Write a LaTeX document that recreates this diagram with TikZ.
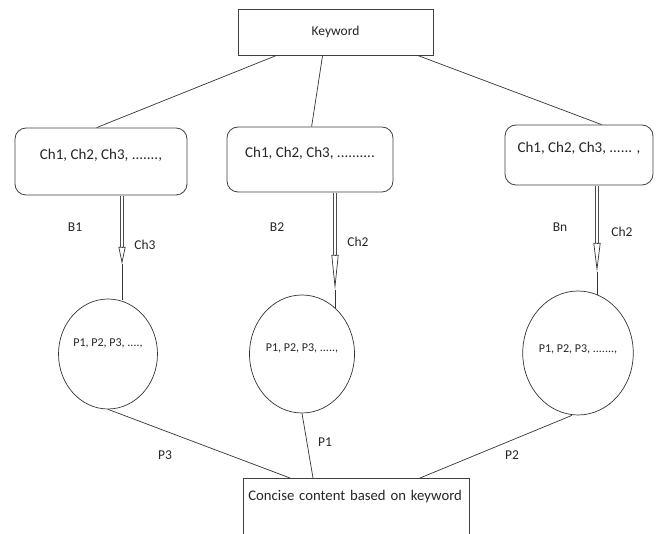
\documentclass[tikz,border=0pt]{standalone}
\usepackage{fontspec}
\setmainfont{Carlito}
\usetikzlibrary{shapes.geometric,arrows.meta}

\tikzset{
  box/.style={draw=black!75, line width=0.8pt, fill=white, text=black!85, inner sep=0pt},
  chbox/.style={box, rounded corners=11pt, text height=10pt, text depth=14pt,
                font=\fontsize{15}{17}\selectfont},
  pnode/.style={ellipse, draw=black!80, line width=0.7pt, inner sep=0pt, text=black!85,
                text height=8pt, font=\fontsize{12}{14}\selectfont},
  lab/.style={text=black!85, inner sep=0pt, font=\fontsize{13.5}{16}\selectfont},
  link/.style={draw=black!80, line width=0.7pt},
  chan/.style={draw=black!70, line width=4pt, postaction={draw=white, line width=2pt}},
  chtip/.style={link, -{Triangle[open, width=7pt, length=#1]}}
}

\begin{document}
\begin{tikzpicture}[x=1pt, y=-1pt]
\useasboundingbox (0,0) rectangle (657,534);
% top: keyword and its three branches
\node[box, minimum width=195pt, minimum height=46pt, font=\fontsize{13.5}{15}\selectfont] (kw) at (335.5,32) {Keyword};
\node[chbox, minimum width=172pt, minimum height=67pt] (b1) at (101,161.5) {Ch1, Ch2, Ch3, .......,};
\node[chbox, minimum width=166pt, minimum height=65pt] (b2) at (310,159.5) {Ch1, Ch2, Ch3, ..........};
\node[chbox, minimum width=148pt, minimum height=60pt] (b3) at (579,155) {Ch1, Ch2, Ch3, ...... ,};
\draw[link] ([xshift=39]kw.south west) -- ([xshift=82]b1.north west);
\draw[link] ([xshift=85]kw.south west) -- ([xshift=85]b2.north west);
\draw[link] ([xshift=180]kw.south west) -- ([xshift=97]b3.north west);

% paragraphs
\node[pnode, minimum width=99pt, minimum height=110pt, text depth=22pt] (c1) at (108,354) {P1, P2, P3, ....,};
\node[pnode, minimum width=105pt, minimum height=118pt, text depth=12pt] (c2) at (302,354) {P1, P2, P3, .....,};
\node[pnode, minimum width=110pt, minimum height=124pt, text depth=8pt] (c3) at (578,353) {P1, P2, P3, .......,};

% chosen chapter arrows
\coordinate (s1) at (122,196);
\coordinate (m1) at (122,247);
\coordinate (h1) at (122,264);
\coordinate (e1) at (122,300);
\coordinate (s2) at (335,193);
\coordinate (m2) at (335,255);
\coordinate (h2) at (335,290);
\coordinate (e2) at (335,308);
\coordinate (s3) at (597,186);
\coordinate (m3) at (597,243);
\coordinate (h3) at (597,272);
\coordinate (e3) at (597,295);
\draw[chan] (s1) -- (m1);
\draw[chtip=17pt] (m1) -- (h1);
\draw[link] (h1) -- (e1);
\draw[chan] (s2) -- (m2);
\draw[chtip=35pt] (m2) -- (h2);
\draw[link] (h2) -- (e2);
\draw[chan] (s3) -- (m3);
\draw[chtip=29pt] (m3) -- (h3);
\draw[link] (h3) -- (e3);

\node[lab] (lb1) at (75,227) {B1};
\node[lab] (lch1) at (145,245) {Ch3};
\node[lab] (lb2) at (277,227) {B2};
\node[lab] (lch2) at (358,242) {Ch2};
\node[lab] (lb3) at (560,227) {Bn};
\node[lab] (lch3) at (622,232) {Ch2};

% bottom: result
\node[box, anchor=north west, text width=216pt, align=left, inner xsep=5pt, inner ysep=8pt,
      text height=14pt, text depth=60pt, font=\fontsize{14.7}{16}\selectfont] (out) at (243,478)
      {Concise content based on keyword};
\draw[link] (c1.south) -- ([xshift=47]out.north west);
\draw[link] (c2.south) -- ([xshift=70]out.north west);
\draw[link] ([xshift=-6]c3.south) -- ([xshift=177]out.north west);
\node[lab] (lp3) at (165,455) {P3};
\node[lab] (lp1) at (325,442) {P1};
\node[lab] (lp2) at (512,455) {P2};
\end{tikzpicture}
\end{document}
